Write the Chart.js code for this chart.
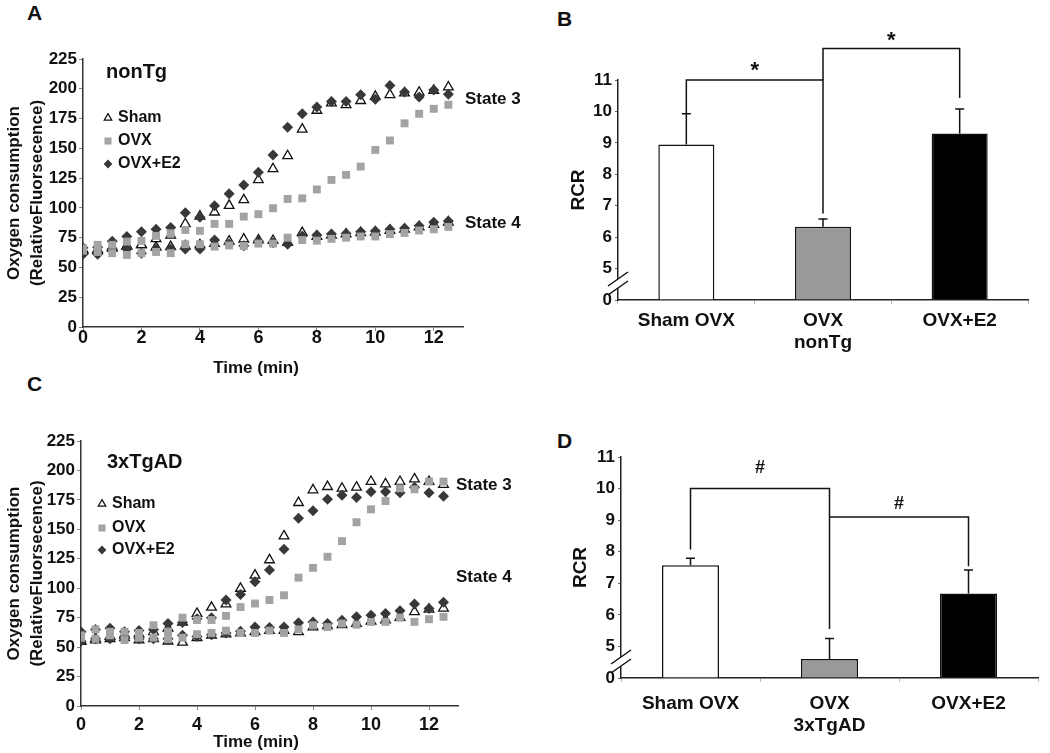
<!DOCTYPE html>
<html>
<head>
<meta charset="utf-8">
<script src="https://cdn.jsdelivr.net/npm/chart.js@4/dist/chart.umd.min.js"></script>
<style>
  body { margin: 0; background: #fff; width: 1050px; height: 753px; position: relative; overflow: hidden;
         font-family: "Liberation Sans", Arial, sans-serif; }
  canvas { position: absolute; }
  .tag { position: absolute; font-weight: bold; font-size: 21px; line-height: 21px; color: #111; }
</style>
</head>
<body>
<div class="tag" style="left:27px;top:2px">A</div>
<div class="tag" style="left:557px;top:8px">B</div>
<div class="tag" style="left:27px;top:373px">C</div>
<div class="tag" style="left:557px;top:430px">D</div>
<canvas id="chartA" width="530" height="380" style="left:0;top:0"></canvas>
<canvas id="chartB" width="520" height="380" style="left:530px;top:0"></canvas>
<canvas id="chartC" width="530" height="373" style="left:0;top:380px"></canvas>
<canvas id="chartD" width="520" height="373" style="left:530px;top:380px"></canvas>
<script>
const FONT = '"Liberation Sans", Arial, sans-serif';

// sampling times (min)
const minutes = [0, 0.5, 1, 1.5, 2, 2.5, 3, 3.5, 4, 4.5, 5, 5.5, 6, 6.5,
  7, 7.5, 8, 8.5, 9, 9.5, 10, 10.5, 11, 11.5, 12, 12.5];

// nonTg oxygen traces
const nonTgShamState3 = [65, 65, 67, 68, 69, 74, 77, 86.6, 93, 96.4, 102, 106.7, 123.5, 132.8,
  143.7, 166, 181.8, 188, 186.5, 190, 193.5, 195, 196.4, 197, 198.6, 201.4];
const nonTgShamState4 = [64, 64, 66, 68, 69, 67, 67.4, 68, 69, 70, 72, 73.7, 73, 72.5,
  71, 79.2, 76, 77, 78, 79, 79.5, 81, 82, 84, 86, 88];
const nonTgOvxState3 = [66, 69, 69, 71.7, 72.3, 76.5, 78.7, 81.5, 80.7, 86.6, 86.6, 92.7, 94.7, 99.7,
  107.5, 108, 115.5, 123.5, 127.7, 134.7, 148.7, 156.6, 171, 179, 183.2, 186.6];
const nonTgOvxState4 = [64, 63, 62, 60.5, 62, 63, 62, 69.5, 69.5, 67.5, 68.5, 68, 70, 70,
  75, 73, 72.5, 74, 75, 76, 76, 78, 79, 81, 82, 84];
const nonTgE2State3 = [66.5, 67, 72, 76, 80, 82, 83.5, 96, 92.2, 101.7, 111.8, 119.3, 130, 144.5,
  167.8, 179, 184.6, 189.3, 189.3, 195, 191.3, 202.8, 197.2, 193, 199, 195.5];
const nonTgE2State4 = [61, 61, 65.5, 65.5, 62, 65.5, 65.5, 65.5, 65.5, 73, 69.7, 68.3, 72.3, 70.8,
  69.5, 76.5, 77.3, 78, 78.5, 80, 80.5, 82, 83, 85, 88, 89];

// 3xTgAD oxygen traces
const tgShamState3 = [55, 57, 59, 60, 61, 63, 66, 71, 78.5, 83.7, 86.5, 99.8, 111, 124,
  144.3, 172.6, 183.4, 186.2, 184.8, 185.7, 190.5, 188.5, 190.5, 192.7, 190.5, 188];
const tgShamState4 = [55, 56, 57, 58, 56, 57, 55, 54, 58, 60, 61, 62, 63, 64,
  64, 63, 67, 68, 69, 70, 72, 73, 75, 80, 82, 83];
const tgOvxState3 = [60, 65, 63, 63, 62, 68.6, 63, 75, 73, 73, 76.5, 84, 87, 90,
  94, 109, 117.3, 126.7, 140, 156, 167, 174, 184.8, 184, 190.5, 190.5];
const tgOvxState4 = [58, 57, 60, 56, 58, 58, 57, 58, 61, 62, 64, 62, 62, 64,
  62, 65, 68.6, 67, 70, 69, 71.4, 71.4, 75, 71.4, 73.7, 75.7];
const tgE2State3 = [63, 65, 66, 63, 64, 65, 70, 71, 74, 75, 89.9, 94.7, 105.4, 115.4,
  133, 159.5, 165.7, 175.5, 179, 177, 182, 182, 181, 185.7, 181, 178];
const tgE2State4 = [55, 57, 57, 59, 57, 57, 57, 60, 59, 60.6, 62, 63.5, 67, 66.6,
  67, 70.6, 71.4, 70, 72.8, 75.7, 77, 78.5, 80.8, 86.5, 82.8, 88];

// RCR bars
const nonTgGroups = ['Sham OVX', ['OVX', 'nonTg'], 'OVX+E2'];
const nonTgRcr = [8.95, 6.33, 9.3];
const nonTgRcrErr = [0.98, 0.25, 0.78];
const tgGroups = ['Sham OVX', ['OVX', '3xTgAD'], 'OVX+E2'];
const tgRcr = [7.57, 4.6, 6.68];
const tgRcrErr = [0.22, 0.65, 0.74];

const groups = ['Sham', 'OVX', 'OVX+E2'];
const barFills = ['#ffffff', '#999999', '#000000'];

const looks = {
  'Sham': { pointStyle: 'triangle', pointRadius: 5.6, pointBackgroundColor: '#ffffff', pointBorderColor: '#111111', pointBorderWidth: 1.3 },
  'OVX': { pointStyle: 'rect', pointRadius: 5.6, pointBackgroundColor: '#a3a3a3', pointBorderColor: '#a3a3a3', pointBorderWidth: 0 },
  'OVX+E2': { pointStyle: 'rectRot', pointRadius: 5.5, pointBackgroundColor: '#383838', pointBorderColor: '#383838', pointBorderWidth: 0 }
};

Chart.defaults.font.family = FONT;
Chart.defaults.color = '#111';

function traceSets(list) {
  return list.map(([group, values]) => Object.assign({
    label: group,
    data: minutes.map((t, i) => ({ x: t, y: values[i] })),
    showLine: false
  }, looks[group]));
}

function markerPath(ctx, style, x, y, r) {
  ctx.beginPath();
  if (style === 'triangle') {
    ctx.moveTo(x, y - r);
    ctx.lineTo(x + r * 0.866, y + r * 0.5);
    ctx.lineTo(x - r * 0.866, y + r * 0.5);
    ctx.closePath();
  } else if (style === 'rect') {
    const s = r * Math.SQRT1_2;
    ctx.rect(x - s, y - s, 2 * s, 2 * s);
  } else {
    ctx.moveTo(x, y - r);
    ctx.lineTo(x + r, y);
    ctx.lineTo(x, y + r);
    ctx.lineTo(x - r, y);
    ctx.closePath();
  }
}

function traceNotes(cfg) {
  return {
    id: 'traceNotes',
    afterDraw(chart) {
      const ctx = chart.ctx;
      ctx.save();
      ctx.textBaseline = 'middle';
      ctx.textAlign = 'left';
      ctx.fillStyle = '#111';
      ctx.font = 'bold 20px ' + FONT;
      ctx.fillText(cfg.tag, cfg.tagX, cfg.tagY);
      ctx.font = 'bold 16px ' + FONT;
      groups.forEach((g, i) => {
        const look = looks[g], yy = cfg.rowY[i];
        markerPath(ctx, look.pointStyle, cfg.markX, yy, g === 'OVX' ? 5 : 4.4);
        ctx.fillStyle = look.pointBackgroundColor;
        ctx.fill();
        if (look.pointBorderWidth) {
          ctx.lineWidth = 1.2;
          ctx.strokeStyle = look.pointBorderColor;
          ctx.stroke();
        }
        ctx.fillStyle = '#111';
        ctx.fillText(g, cfg.textX, yy);
      });
      ctx.font = 'bold 17px ' + FONT;
      ctx.fillText('State 3', cfg.stateX, cfg.state3Y);
      ctx.fillText('State 4', cfg.stateX, cfg.state4Y);
      ctx.textAlign = 'center';
      ctx.fillText('Time (min)', cfg.timeX, cfg.timeY);
      ctx.restore();
    }
  };
}

function timeAxis(height, pad) {
  return {
    type: 'linear', min: 0, max: 13,
    afterBuildTicks: s => { s.ticks = s.ticks.filter(t => t.value % 2 === 0); },
    afterFit: s => { s.height = height; },
    grid: { drawOnChartArea: false, tickLength: 4, color: '#888' },
    border: { color: '#333', width: 1.5 },
    ticks: { stepSize: 2, padding: pad, maxRotation: 0, color: '#111',
             font: { size: 18, weight: 'bold', lineHeight: 1 } }
  };
}

function oxygenAxis(width) {
  return {
    min: 0, max: 225,
    afterFit: s => { s.width = width; },
    grid: { drawOnChartArea: false, tickLength: 4, color: '#888' },
    border: { color: '#333', width: 1.5 },
    ticks: { stepSize: 25, padding: 2, color: '#111', font: { size: 17, weight: 'bold' } },
    title: { display: true, text: ['Oxygen consumption', '(RelativeFluorsecence)'], color: '#111',
             font: { size: 17, weight: 'bold', lineHeight: 1.4 }, padding: { top: 2, bottom: 0 } }
  };
}

function traceChart(id, sets, pad, xHeight, xPad, yWidth, notes) {
  return new Chart(document.getElementById(id), {
    type: 'scatter',
    data: { datasets: traceSets(sets) },
    options: {
      responsive: false, animation: false,
      layout: { padding: pad },
      plugins: { legend: { display: false }, tooltip: { enabled: false } },
      scales: { x: timeAxis(xHeight, xPad), y: oxygenAxis(yWidth) }
    },
    plugins: [traceNotes(notes)]
  });
}

traceChart('chartA', [
  ['OVX', nonTgOvxState3], ['OVX', nonTgOvxState4],
  ['OVX+E2', nonTgE2State3], ['OVX+E2', nonTgE2State4],
  ['Sham', nonTgShamState3], ['Sham', nonTgShamState4]
], { top: 59, right: 67, bottom: 0, left: 0 }, 53, -2, 83, {
  tag: 'nonTg', tagX: 106, tagY: 72,
  rowY: [118, 141, 164], markX: 108, textX: 118,
  stateX: 465, state3Y: 99, state4Y: 223,
  timeX: 256, timeY: 368
});

traceChart('chartC', [
  ['OVX', tgOvxState3], ['OVX', tgOvxState4],
  ['OVX+E2', tgE2State3], ['OVX+E2', tgE2State4],
  ['Sham', tgShamState3], ['Sham', tgShamState4]
], { top: 61, right: 72, bottom: 0, left: 0 }, 47, 6, 81, {
  tag: '3xTgAD', tagX: 107, tagY: 82,
  rowY: [124, 148, 170], markX: 102, textX: 112,
  stateX: 456, state3Y: 105, state4Y: 197,
  timeX: 256, timeY: 362
});

// significance brackets (values on the RCR scale)
const nonTgBrackets = [
  { from: 0, to: 1, level: 11, leftEnd: 9.93, rightEnd: 6.75, mark: '*', markAt: 11.35 },
  { from: 1, to: 2, level: 12, leftEnd: 11, rightEnd: 10.43, mark: '*', markAt: 12.3 }
];
const tgBrackets = [
  { from: 0, to: 1, level: 10, leftEnd: 8.07, rightEnd: 5.55, mark: '#', markAt: 10.65 },
  { from: 1, to: 2, level: 9.1, leftEnd: 9.1, rightEnd: 7.54, mark: '#', markAt: 9.52 }
];

function rcrNotes(errors, brackets) {
  return {
    id: 'rcrNotes',
    afterDraw(chart) {
      const ctx = chart.ctx, y = chart.scales.y;
      const bars = chart.getDatasetMeta(0).data;
      const vals = chart.data.datasets[0].data;
      ctx.save();
      ctx.strokeStyle = '#111';
      ctx.lineWidth = 1.5;
      bars.forEach((bar, i) => {
        const top = y.getPixelForValue(vals[i] + errors[i]);
        ctx.beginPath();
        ctx.moveTo(bar.x, bar.y);
        ctx.lineTo(bar.x, top);
        ctx.moveTo(bar.x - 4.5, top);
        ctx.lineTo(bar.x + 4.5, top);
        ctx.stroke();
      });
      ctx.fillStyle = '#111';
      ctx.textAlign = 'center';
      ctx.textBaseline = 'middle';
      brackets.forEach(b => {
        const x1 = bars[b.from].x, x2 = bars[b.to].x, ly = y.getPixelForValue(b.level);
        ctx.beginPath();
        ctx.moveTo(x1, y.getPixelForValue(b.leftEnd));
        ctx.lineTo(x1, ly);
        ctx.lineTo(x2, ly);
        ctx.lineTo(x2, y.getPixelForValue(b.rightEnd));
        ctx.stroke();
        ctx.font = (b.mark === '*' ? 'bold 22px ' : 'bold 18px ') + FONT;
        ctx.fillText(b.mark, (x1 + x2) / 2, y.getPixelForValue(b.markAt) + (b.mark === '*' ? 2 : 0));
      });
      // axis break
      const bx = chart.chartArea.left, by = chart.chartArea.bottom;
      ctx.fillStyle = '#fff';
      ctx.beginPath();
      ctx.moveTo(bx - 9, by - 15);
      ctx.lineTo(bx + 9, by - 27);
      ctx.lineTo(bx + 9, by - 18);
      ctx.lineTo(bx - 9, by - 6);
      ctx.closePath();
      ctx.fill();
      ctx.beginPath();
      ctx.moveTo(bx - 10, by - 14);
      ctx.lineTo(bx + 10, by - 28);
      ctx.moveTo(bx - 10, by - 5);
      ctx.lineTo(bx + 10, by - 19);
      ctx.stroke();
      ctx.restore();
    }
  };
}

function rcrChart(id, labels, values, errors, brackets, pad, xHeight, xPad, yWidth, titlePad) {
  return new Chart(document.getElementById(id), {
    type: 'bar',
    data: {
      labels: labels,
      datasets: [{
        data: values, base: 4,
        backgroundColor: barFills, borderColor: '#111', borderWidth: 1.5,
        categoryPercentage: 1, barPercentage: 0.41
      }]
    },
    options: {
      responsive: false, animation: false,
      layout: { padding: pad },
      plugins: { legend: { display: false }, tooltip: { enabled: false } },
      scales: {
        x: {
          z: 1,
          afterFit: s => { s.height = xHeight; },
          grid: { drawOnChartArea: false, tickLength: 4, color: '#bbb', offset: true },
          border: { color: '#222', width: 1.5 },
          ticks: { padding: xPad, maxRotation: 0, autoSkip: false, color: '#111',
                   font: { size: 19, weight: 'bold', lineHeight: 1.2 } }
        },
        y: {
          z: 1, min: 4, max: 11,
          afterFit: s => { s.width = yWidth; },
          grid: { drawOnChartArea: false, tickLength: 3, color: '#666' },
          border: { color: '#222', width: 1.5 },
          ticks: { stepSize: 1, padding: 3, color: '#111', font: { size: 17, weight: 'bold' },
                   callback: v => (v === 4 ? '0' : v) },
          title: { display: true, text: 'RCR', color: '#111',
                   font: { size: 19, weight: 'bold', lineHeight: 1.2 }, padding: { top: titlePad, bottom: 0 } }
        }
      }
    },
    plugins: [rcrNotes(errors, brackets)]
  });
}

rcrChart('chartB', nonTgGroups, nonTgRcr, nonTgRcrErr, nonTgBrackets,
  { top: 80, right: 22, bottom: 0, left: 0 }, 80, 5, 88, 37);
rcrChart('chartD', tgGroups, tgRcr, tgRcrErr, tgBrackets,
  { top: 77, right: 12, bottom: 0, left: 0 }, 75, 10, 91, 39);
</script>
</body>
</html>
